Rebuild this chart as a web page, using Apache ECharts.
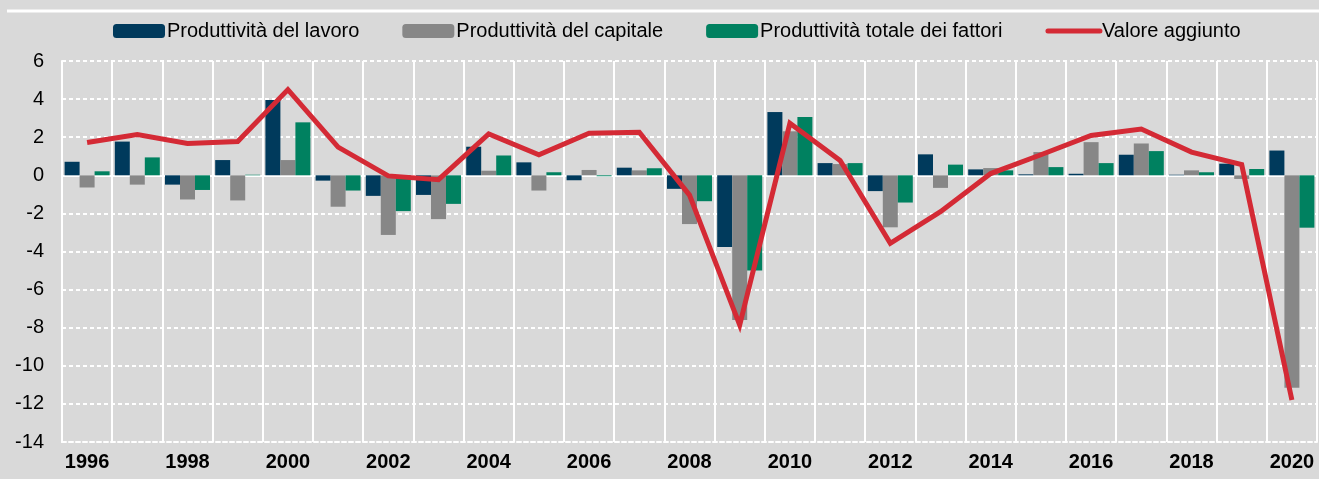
<!DOCTYPE html>
<html>
<head>
<meta charset="utf-8">
<script src="https://cdn.jsdelivr.net/npm/echarts@6/dist/echarts.min.js"></script>
<style>
  html, body { margin: 0; padding: 0; background: #d9d9d9; }
  #chart { width: 1319px; height: 479px; }
</style>
</head>
<body>
<div id="chart"></div>
<script>
const years = ['1996','1997','1998','1999','2000','2001','2002','2003','2004','2005','2006','2007','2008',
  '2009','2010','2011','2012','2013','2014','2015','2016','2017','2018','2019','2020'];
const lavoro = [0.71,1.77,-0.49,0.8,3.95,-0.28,-1.08,-1.03,1.5,0.68,-0.26,0.4,-0.71,-3.77,3.32,0.64,-0.83,1.1,0.31,0.05,0.08,1.08,0.03,0.61,1.3];
const capitale = [-0.64,-0.49,-1.27,-1.32,0.8,-1.65,-3.13,-2.3,0.24,-0.8,0.28,0.26,-2.56,-7.6,2.31,0.59,-2.73,-0.66,0.38,1.22,1.74,1.67,0.26,-0.19,-11.15];
const tfp = [0.21,0.94,-0.77,0.03,2.78,-0.8,-1.88,-1.5,1.04,0.16,-0.05,0.37,-1.36,-5.0,3.06,0.64,-1.43,0.56,0.26,0.43,0.64,1.27,0.16,0.33,-2.75];
const valore = [1.72,2.14,1.67,1.77,4.5,1.48,-0.03,-0.23,2.17,1.08,2.21,2.26,-1.04,-7.86,2.73,0.78,-3.57,-1.91,0.09,1.08,2.09,2.43,1.22,0.56,-11.8];

const font = '"Liberation Sans Narrow", "Arial Narrow", "Liberation Sans", sans-serif';

let myChart = echarts.init(document.getElementById('chart'));
let option = {
    backgroundColor: '#d9d9d9',
    animation: false,
    textStyle: { fontFamily: font },
    graphic: [{
        type: 'line',
        shape: { x1: 7, y1: 11, x2: 1319, y2: 11 },
        style: { stroke: '#ffffff', lineWidth: 3 }
    }],
    legend: {
        left: 108,
        top: 16,
        itemWidth: 52,
        itemHeight: 14,
        itemGap: 43,
        textStyle: { fontFamily: font, fontSize: 20, color: '#000', padding: [0, 0, 0, -3] },
        data: [
            'Produttività del lavoro',
            'Produttività del capitale',
            'Produttività totale dei fattori',
            { name: 'Valore aggiunto', itemStyle: { opacity: 0 }, lineStyle: { width: 5, cap: 'round' } }
        ]
    },
    grid: { left: 62, right: 2, top: 61, bottom: 37 },
    xAxis: [{
        type: 'category',
        data: years,
        position: 'bottom',
        axisLine: { onZero: false, lineStyle: { color: '#ffffff', width: 2, type: [4, 3] } },
        axisTick: { show: false },
        axisLabel: {
            interval: 1, margin: 10, fontSize: 20, fontWeight: 'bold', color: '#000', fontFamily: font
        },
        splitLine: { show: true, interval: 0, lineStyle: { color: '#ffffff', width: 2 } }
    }, {
        type: 'category',
        data: years,
        axisLine: { onZero: true, lineStyle: { color: '#ffffff', width: 2 } },
        axisTick: { show: false },
        axisLabel: { show: false },
        splitLine: { show: false }
    }],
    yAxis: {
        type: 'value',
        min: -14,
        max: 6,
        interval: 2,
        axisLine: { show: true, lineStyle: { color: '#ffffff', width: 2 } },
        axisTick: { show: false },
        axisLabel: { fontSize: 20, color: '#000', margin: 18, fontFamily: font },
        splitLine: { show: true, lineStyle: { color: '#ffffff', width: 2, type: [4, 3] } }
    },
    series: [{
        name: 'Produttività del lavoro',
        type: 'bar',
        data: lavoro,
        barWidth: 15,
        barGap: '0%',
        itemStyle: { color: '#003a5c' }
    }, {
        name: 'Produttività del capitale',
        type: 'bar',
        data: capitale,
        barWidth: 15,
        barGap: '0%',
        itemStyle: { color: '#878787' }
    }, {
        name: 'Produttività totale dei fattori',
        type: 'bar',
        data: tfp,
        barWidth: 15,
        barGap: '0%',
        itemStyle: { color: '#008160' }
    }, {
        name: 'Valore aggiunto',
        type: 'line',
        data: valore,
        symbol: 'none',
        z: 5,
        lineStyle: { color: '#d42a35', width: 5, join: 'miter' },
        itemStyle: { color: '#d42a35' }
    }]
};
myChart.setOption(option);
</script>
</body>
</html>
